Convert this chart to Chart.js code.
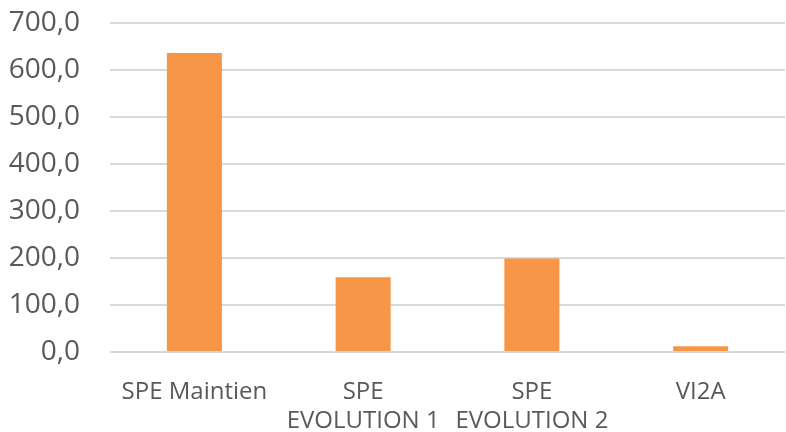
<!DOCTYPE html>
<html>
<head>
<meta charset="utf-8">
<script src="https://cdn.jsdelivr.net/npm/chart.js@4"></script>
<style>
  html,body{margin:0;padding:0;background:#fff;}
  #wrap{width:786px;height:432px;}
</style>
</head>
<body>
<div id="wrap"><canvas id="graphique"></canvas></div>
<script>
const categories=[["SPE Maintien"],["SPE","EVOLUTION 1"],["SPE","EVOLUTION 2"],["VI2A"]]
const valeurs=[636,159,199,12]
const ticksY=[0,100,200,300,400,500,600,700]

const data={
    labels:categories,
    datasets:[{
        data:valeurs,
        backgroundColor:"#F79646",
        categoryPercentage:1,
        barPercentage:0.326
    }]
}

const config={
    type:"bar",
    data:data,
    options:{
        responsive:false,
        animation:false,
        layout:{padding:{top:23,right:1,left:0,bottom:0}},
        plugins:{legend:{display:false},tooltip:{enabled:false}},
        scales:{
            x:{
                grid:{display:false},
                border:{display:false},
                ticks:{
                    color:"#595959",
                    font:{family:"Open Sans",size:24},
                    padding:18,
                    maxRotation:0
                },
                afterFit:(s)=>{s.height=80;s.paddingLeft=0;s.paddingRight=0}
            },
            y:{
                min:0,
                max:700,
                afterBuildTicks:(s)=>{s.ticks=ticksY.map(v=>({value:v}))},
                grid:{color:"#D9D9D9",lineWidth:2,drawTicks:false},
                border:{display:false},
                ticks:{
                    color:"#595959",
                    font:{family:"Open Sans",size:28},
                    padding:30,
                    callback:(v)=>v.toFixed(1).replace(".",",")
                },
                afterFit:(s)=>{s.width=110;s.paddingTop=0;s.paddingBottom=0}
            }
        }
    }
}

const canvas=document.querySelector("#graphique")
canvas.width=786
canvas.height=432
new Chart(canvas,config)
</script>
</body>
</html>
